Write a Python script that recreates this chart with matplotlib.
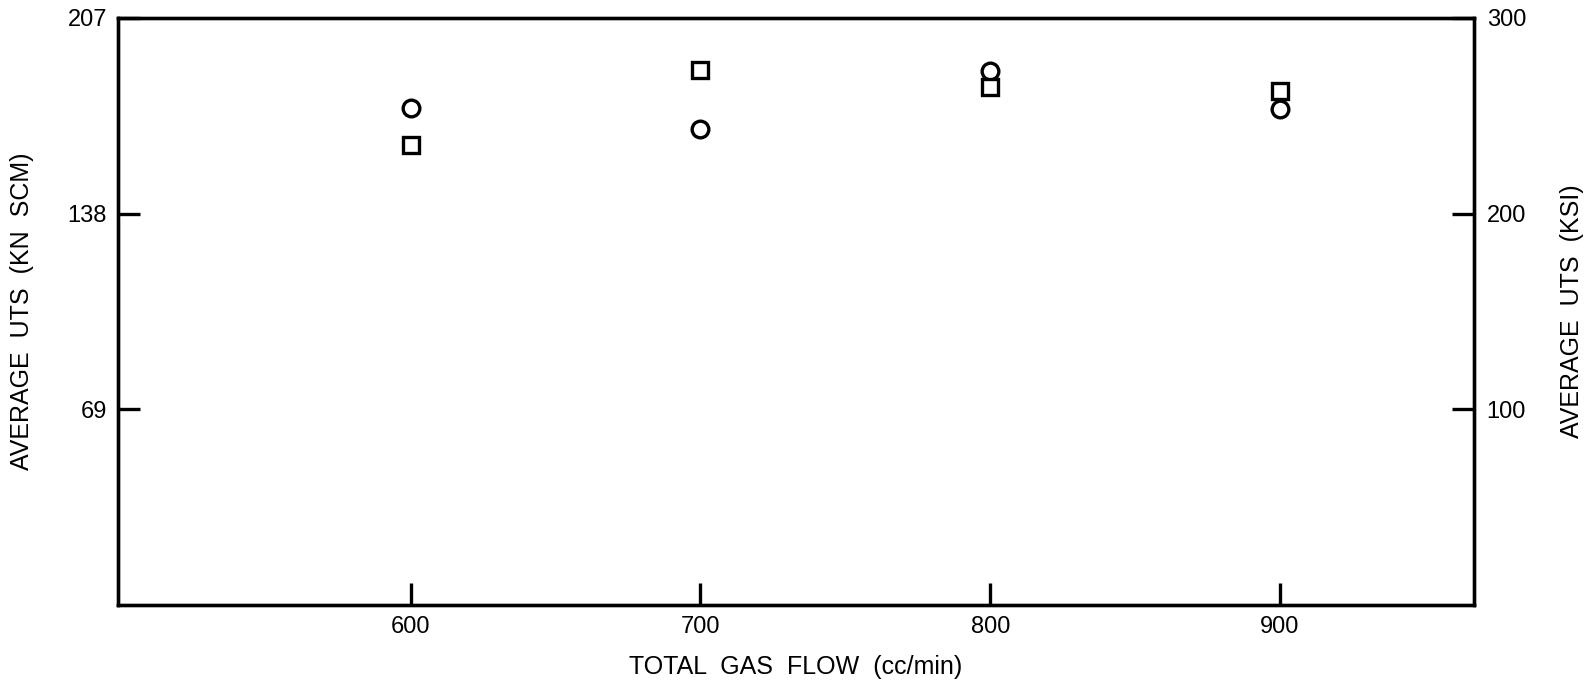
import numpy as np
import matplotlib.pyplot as plt

plt.rcParams['font.family'] = ['Liberation Sans', 'DejaVu Sans']

# dados (UTS em KSI)
fluxo = [600, 700, 800, 900]
uts_circulo = [254.0, 243.2, 272.9, 253.4]
uts_quadrado = [235.1, 273.4, 264.7, 262.6]

ticks_x = [600, 700, 800, 900]
ticks_kn = [69, 138, 207]
ticks_ksi = [100, 200, 300]

fig = plt.figure(figsize=(15.95, 6.86), dpi=100)
ax = fig.add_axes([0.0740, 0.1181, 0.8502, 0.8557])
ax2 = ax.twinx()

ax.set_xlim(499, 967)
ax.set_ylim(0, 207)
ax2.set_ylim(0, 300)

ax2.plot(fluxo, uts_circulo, 'o', ms=12, mfc='white', mec='black', mew=2.4, ls='none')
ax2.plot(fluxo, uts_quadrado, 's', ms=11.5, mfc='white', mec='black', mew=2.4, ls='none')

ax.set_xticks(ticks_x)
ax.set_yticks(ticks_kn)
ax2.set_yticks(ticks_ksi)

ax.tick_params(axis='both', direction='in', length=16, width=2.4, labelsize=17, pad=8)
ax2.tick_params(axis='y', direction='in', length=16, width=2.4, labelsize=17, pad=9)
ax.tick_params(axis='x', pad=8)

for a in (ax, ax2):
    for s in a.spines.values():
        s.set_linewidth(2.4)

ax.text(-0.0708, 0.5, 'AVERAGE  UTS  (KN  SCM)', transform=ax.transAxes,
        rotation=90, ha='center', va='center', fontsize=18)
ax.text(1.072, 0.5, 'AVERAGE  UTS  (KSI)', transform=ax.transAxes,
        rotation=90, ha='center', va='center', fontsize=18)
ax.text(0.5, -0.106, 'TOTAL  GAS  FLOW  (cc/min)', transform=ax.transAxes,
        ha='center', va='center', fontsize=18)

fig.savefig('out.png', dpi=100)
